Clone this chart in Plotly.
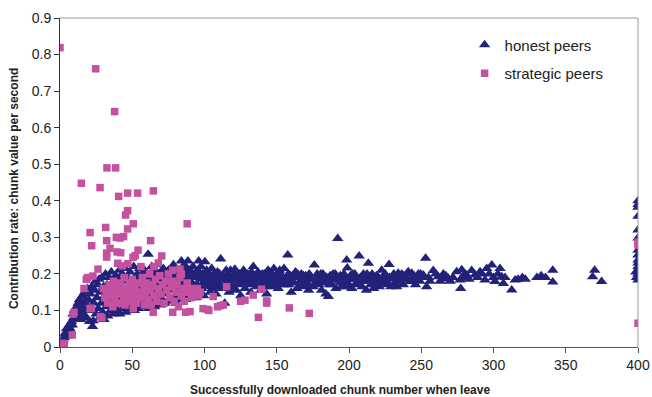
import plotly.graph_objects as go

# (chunk number when leaving, contribution rate)
honest_peers = [
    (0,0),(0.5,0.005),(1,0.01),(2,0.02),(3,0.025),(3.5,0.035),(4,0.04),(4.5,0.05),(5,0.03),(5.5,0.045),
    (6,0.055),(6.5,0.06),(7,0.05),(7.5,0.065),(8,0.07),(8.5,0.06),(9,0.09),(9.5,0.08),(10,0.1),(10.5,0.075),
    (11,0.085),(11.5,0.11),(12,0.095),(12.5,0.12),(13,0.1),(13.5,0.13),(14,0.085),(14.5,0.075),(15,0.11),(15.5,0.14),
    (16,0.09),(16.5,0.12),(17,0.15),(17.5,0.1),(18,0.13),(18.5,0.08),(19,0.16),(19.5,0.11),(20,0.128),(20.5,0.07),
    (21,0.145),(21.5,0.1),(22,0.165),(22.5,0.056),(23,0.072),(23.5,0.12),(24,0.155),(24.5,0.18),(25,0.09),(25.5,0.135),
    (26,0.17),(26.5,0.105),(27,0.185),(27.5,0.08),(28,0.15),(28.5,0.12),(29,0.19),(29.5,0.095),(30,0.165),(30.5,0.075),
    (31,0.14),(31.5,0.2),(32,0.11),(32.5,0.17),(33,0.085),(33.5,0.155),(34,0.19),(34.5,0.125),(35,0.1),(35.5,0.205),
    (36,0.145),(36.5,0.175),(37,0.09),(37.5,0.16),(38,0.115),(38.5,0.195),(39,0.135),(39.5,0.1),(40,0.185),(40.5,0.15),
    (41,0.21),(41.5,0.09),(42,0.17),(42.5,0.125),(43,0.2),(43.5,0.105),(44,0.16),(44.5,0.14),(45,0.215),(45.5,0.095),
    (46,0.18),(46.5,0.13),(47,0.19),(47.5,0.11),(48,0.155),(48.5,0.205),(49,0.1),(49.5,0.17),(50,0.135),
    (51,0.22),(51.5,0.1),(52,0.185),(52.5,0.145),(53,0.12),(53.5,0.2),(54,0.165),(54.5,0.105),(55,0.215),(55.5,0.13),
    (56,0.18),(56.5,0.115),(57,0.195),(57.5,0.15),(58,0.11),(58.5,0.21),(59,0.17),(59.5,0.125),(60,0.19),(60.5,0.14),
    (61,0.254),(61.5,0.105),(62,0.2),(62.5,0.16),(63,0.12),(63.5,0.22),(64,0.175),(64.5,0.135),(65,0.195),(65.5,0.11),
    (66,0.21),(66.5,0.15),(67,0.125),(67.5,0.185),(68,0.225),(68.5,0.14),(69,0.17),(69.5,0.115),(70,0.2),(70.5,0.155),
    (71,0.13),(71.5,0.215),(72,0.18),(72.5,0.12),(73,0.195),(74,0.145),(74.5,0.165),(75,0.21),
    (51.2,0.16),(53.2,0.175),(55.2,0.19),(57.2,0.17),(59.2,0.2),(61.2,0.18),(63.2,0.19),(65.2,0.17),(67.2,0.2),(69.2,0.185),
    (71.2,0.19),(73.2,0.205),(75.2,0.18),(77.2,0.19),(79.2,0.205),(81.2,0.19),(83.2,0.17),(85.2,0.21),(87.2,0.195),(89.2,0.21),
    (91.2,0.19),(93.2,0.2),(95.2,0.19),(97.2,0.2),
    (76,0.125),(76.5,0.185),(77,0.155),(77.5,0.2),(78,0.135),(78.5,0.225),(79,0.17),(79.5,0.14),(80,0.195),(80.5,0.12),
    (81,0.21),(81.5,0.16),(82,0.18),(82.5,0.13),(83,0.2),(83.5,0.15),(84,0.235),(84.5,0.175),(85,0.14),(85.5,0.19),
    (86,0.225),(86.5,0.16),(87,0.13),(87.5,0.21),(88,0.18),(88.5,0.235),(89,0.15),(89.5,0.195),(90,0.165),(90.5,0.14),
    (91,0.205),(91.5,0.175),(92,0.22),(92.5,0.155),(93,0.19),(94,0.135),(94.5,0.2),(95,0.17),(95.5,0.21),(96,0.235),
    (96.5,0.15),(97,0.185),(97.5,0.22),(98,0.16),(98.5,0.2),(99,0.175),(99.5,0.14),(100,0.19),
    (100.3,0.233),(101,0.165),(102,0.2),(103,0.18),(104,0.15),(105,0.215),(106,0.17),(107,0.19),(108,0.145),(109,0.205),
    (110,0.175),(111.2,0.241),(112,0.16),(113,0.195),(114,0.12),(115,0.21),(116,0.18),(117,0.15),(118,0.21),(119,0.17),
    (120,0.195),(121,0.213),(122,0.155),(123,0.185),(124,0.2),(125,0.14),(126,0.175),(127,0.21),(128,0.16),(129,0.19),
    (130,0.2),(131,0.17),(132,0.15),(133,0.185),(133.8,0.22),(135,0.195),(136,0.165),(137,0.205),(138,0.18),(139,0.155),
    (140,0.2),(141,0.175),(142,0.19),(143,0.145),(144,0.21),(145,0.185),(146,0.165),(147,0.2),(148,0.215),(149,0.18),
    (100.5,0.18),(101.5,0.21),(102.5,0.175),(103.5,0.195),(104.5,0.185),(105.5,0.16),(106.5,0.2),(107.5,0.175),(108.5,0.19),(109.5,0.165),
    (110.5,0.2),(112.5,0.185),(113.5,0.17),(115.5,0.19),(116.5,0.2),(117.5,0.175),(118.5,0.185),(119.5,0.16),(120.5,0.18),(122.5,0.2),
    (123.5,0.17),(124.5,0.19),(126.5,0.2),(127.5,0.185),(128.5,0.175),(130.5,0.185),(131.5,0.195),(132.5,0.205),(134,0.175),(135.5,0.18),
    (136.5,0.19),(138.5,0.195),(139.5,0.17),(141.5,0.2),(142.5,0.165),(144.5,0.175),(145.5,0.2),(146.5,0.19),(148.5,0.17),
    (150,0.195),(151,0.16),(152,0.21),(153,0.175),(154,0.19),(155,0.215),(156,0.17),(157.6,0.252),(158,0.2),(159,0.18),
    (160,0.15),(161,0.195),(162,0.175),(163,0.205),(164,0.16),(165,0.19),(166,0.18),(167,0.2),(168,0.165),(169,0.185),
    (170,0.195),(171,0.17),(172,0.155),(173,0.19),(175.3,0.165),(176,0.224),(177,0.185),(178,0.2),(179,0.17),(180,0.19),
    (181,0.155),(182,0.2),(183,0.175),(184,0.145),(185.7,0.138),(186,0.185),(187,0.195),(188,0.17),(189,0.2),(190,0.185),
    (191,0.16),(192.2,0.297),(193,0.18),(194,0.195),(195,0.165),(196,0.19),(197,0.175),(198.4,0.238),(198.8,0.216),(199,0.185),
    (150.5,0.185),(151.5,0.2),(153.5,0.195),(154.5,0.17),(156.5,0.185),(158.5,0.17),(159.5,0.195),(160.5,0.18),(162.5,0.19),(164.5,0.2),
    (166.5,0.17),(168.5,0.195),(170.5,0.18),(172.5,0.2),(174,0.185),(176.5,0.175),(178.5,0.185),(180.5,0.2),(182.5,0.18),(184.5,0.19),
    (186.5,0.17),(188.5,0.185),(190.5,0.2),(192.5,0.19),(194.5,0.175),(196.5,0.2),(198,0.165),
    (200,0.17),(201,0.195),(202,0.16),(203,0.185),(204,0.2),(205,0.175),(207,0.249),(208,0.19),(209,0.165),(210,0.2),
    (211,0.18),(212,0.155),(213.4,0.229),(214,0.19),(215,0.17),(216,0.2),(217,0.16),(218,0.185),(219,0.195),(220,0.175),
    (221,0.165),(222.6,0.21),(223,0.19),(224,0.175),(225,0.2),(226,0.18),(227.7,0.226),(228,0.19),(229,0.165),(230,0.185),
    (231,0.2),(232,0.175),(233,0.165),(234,0.202),(235,0.18),(236,0.19),(237.6,0.17),(238,0.195),(239,0.185),(240,0.2),
    (241,0.206),(242.2,0.179),(243.4,0.202),(244.5,0.188),(245,0.195),(246,0.17),(247,0.19),(248,0.2),(249,0.18),(250,0.19),
    (200.5,0.185),(202.5,0.2),(204.5,0.19),(206,0.17),(208.5,0.18),(210.5,0.19),(212.5,0.2),(214.5,0.18),(216.5,0.185),(218.5,0.17),
    (220.5,0.19),(222,0.18),(224.5,0.195),(226.5,0.17),(230.5,0.195),(232.5,0.19),(236.5,0.2),(240.5,0.185),(246.5,0.185),(249.5,0.2),
    (251.4,0.197),(253,0.243),(253.7,0.165),(255,0.19),(256,0.18),(258.3,0.209),(260,0.2),(261.8,0.192),(263,0.18),(265.3,0.2),
    (265.5,0.186),(267,0.195),(268.7,0.188),(270,0.18),(272,0.19),(274.5,0.206),(276.8,0.183),(277.3,0.16),(278,0.211),(279,0.19),
    (280,0.2),(281.4,0.197),(283,0.185),(284.9,0.209),(287.2,0.197),(289,0.19),(290.7,0.206),(292,0.2),(294.1,0.183),(295.3,0.215),
    (297,0.2),(298.8,0.224),(300,0.19),(301,0.179),(303,0.2),(304.5,0.215),(305.7,0.192),(306.8,0.174),(308,0.19),(312.6,0.156),
    (315,0.183),(317,0.185),(320,0.19),(322,0.185),(330,0.19),(333,0.195),(336,0.19),(341,0.21),(341,0.178),(368.6,0.192),
    (370,0.21),(374.8,0.179),
    (400,0.4),(400,0.39),(400,0.382),(400,0.358),(400,0.32),(400,0.298),(400,0.265),(400,0.252),(400,0.238),(400,0.23),
    (400,0.22),(400,0.21),(398.5,0.205),(400,0.2),(400,0.192),(400,0.183),(399,0.19),
]

strategic_peers = [
    (0,0.819),(24.7,0.761),(37.8,0.644),(32.5,0.49),(38.5,0.49),(14.8,0.448),(27.7,0.436),(40.6,0.412),(46.8,0.421),(53.7,0.421),
    (64.6,0.427),(46.8,0.373),(45.4,0.361),(50.7,0.337),(31.6,0.327),(46.8,0.323),(88,0.337),(20.8,0.313),(21.9,0.277),(32.3,0.291),
    (32.3,0.257),(32.3,0.246),(34.6,0.27),(39,0.3),(41.5,0.298),(44,0.302),(39.5,0.26),(42,0.258),(62.7,0.291),(50.5,0.245),
    (52,0.25),(54,0.265),(40,0.229),(43,0.222),(47,0.228),(26.3,0.213),(22.8,0.194),(19,0.19),(18.2,0.185),(16.6,0.16),
    (70.4,0.249),(78,0.21),(84,0.2),(68,0.23),(65,0.22),(56,0.22),(83,0.213),
    (0,0),(1,0.005),(2,0.01),(3,0.008),(8.5,0.033),(9,0.09),(9.7,0.095),(21.7,0.106),(20.8,0.105),(28,0.083),
    (29,0.08),(50.7,0.105),(64.5,0.095),(78,0.095),(87,0.095),(90,0.097),
    (30,0.16),(31,0.135),(32,0.15),(33,0.12),(34,0.17),(35,0.14),(36,0.155),(36.5,0.11),(37,0.18),(38,0.13),
    (39,0.165),(40,0.145),(41,0.12),(42,0.175),(43,0.155),(44,0.135),(44.5,0.19),(45,0.115),(46,0.16),(47,0.14),
    (48,0.175),(48.5,0.125),(49,0.155),(50,0.185),(51,0.14),(52,0.165),(53,0.12),(54,0.15),(55,0.175),(56,0.135),
    (57,0.19),(58,0.16),(58.5,0.115),(59,0.145),(60,0.175),(61,0.13),(62,0.2),(62.5,0.155),(63,0.115),(64,0.17),
    (65,0.14),(66,0.185),(67,0.125),(68,0.16),(69,0.195),(70,0.145),(71,0.17),(72,0.12),(73,0.18),(74,0.155),
    (75,0.2),(76,0.135),(77,0.165),(78,0.18),(79,0.125),(80,0.15),(81,0.17),(82,0.11),(83,0.19),(84,0.14),
    (85,0.16),(86,0.125),(88,0.175),(89,0.15),(90,0.16),(91,0.135),(92,0.155),(94,0.145),(95,0.16),(96,0.14),
    (97,0.15),(99,0.105),(103,0.1),(106,0.138),(102,0.103),(109,0.11),(111,0.113),(113,0.115),(115.3,0.165),(125,0.125),
    (128,0.128),(133.7,0.142),(139.5,0.158),(137.3,0.081),(143,0.12),(143,0.126),(158.7,0.107),(172.5,0.092),
    (400,0.287),(400,0.279),(400,0.065),
]

x_ticks = [0, 50, 100, 150, 200, 250, 300, 350, 400]
y_ticks = [0, 0.1, 0.2, 0.3, 0.4, 0.5, 0.6, 0.7, 0.8, 0.9]
y_tick_labels = ["0", "0.1", "0.2", "0.3", "0.4", "0.5", "0.6", "0.7", "0.8", "0.9"]

FONT = "Liberation Sans, Arial, sans-serif"
NAVY = "#22227a"
MAGENTA = "#c4519f"

fig = go.Figure()
fig.add_trace(go.Scatter(
    x=[p[0] for p in honest_peers], y=[p[1] for p in honest_peers],
    mode="markers", name="honest peers", legendgroup="honest",
    marker=dict(symbol="triangle-up", size=10, color=NAVY, line=dict(width=0)),
))
fig.add_trace(go.Scatter(
    x=[p[0] for p in strategic_peers], y=[p[1] for p in strategic_peers],
    mode="markers", name="strategic peers", legendgroup="strategic",
    marker=dict(symbol="square", size=7.5, color=MAGENTA, line=dict(width=0)),
))

fig.update_layout(
    width=652, height=397,
    margin=dict(l=60, r=14, t=18, b=50, autoexpand=False),
    paper_bgcolor="white", plot_bgcolor="white",
    font=dict(family=FONT, size=13, color="#222"),
    showlegend=True,
    legend=dict(x=0.7, y=0.968, xanchor="left", yanchor="top",
                font=dict(family=FONT, size=15, color="#222"),
                bgcolor="rgba(0,0,0,0)", itemwidth=30, tracegroupgap=6),
    xaxis=dict(range=[0, 400], tickvals=x_ticks, showgrid=False, zeroline=False, automargin=False,
               showline=True, linecolor="#555", linewidth=1,
               ticks="outside", ticklen=5, tickcolor="#555",
               tickfont=dict(family=FONT, size=14, color="#222")),
    yaxis=dict(range=[0, 0.9], tickvals=y_ticks, ticktext=y_tick_labels, showgrid=False, zeroline=False,
               automargin=False, showline=True, linecolor="#333", linewidth=1,
               ticks="outside", ticklen=5, tickcolor="#333",
               tickfont=dict(family=FONT, size=14, color="#222")),
    shapes=[
        dict(type="line", xref="paper", yref="paper", x0=0, x1=1, y0=1, y1=1,
             line=dict(color="#999", width=1)),
        dict(type="line", xref="paper", yref="paper", x0=1, x1=1, y0=0, y1=1,
             line=dict(color="#999", width=1)),
    ],
    annotations=[
        dict(text="<b>Successfully downloaded chunk number when leave</b>", xref="paper", yref="paper",
             x=0.485, y=0, yshift=-43, xanchor="center", yanchor="middle", showarrow=False,
             font=dict(family=FONT, size=12, color="#222")),
        dict(text="<b>Contribution rate: chunk value per second</b>", xref="paper", yref="paper",
             x=0, xshift=-46, y=0.48, xanchor="center", yanchor="middle", textangle=-90, showarrow=False,
             font=dict(family=FONT, size=12, color="#222")),
    ],
)

fig.write_html("out.html", config={"displayModeBar": False},
               post_script="document.body.style.margin='0';document.body.style.padding='0';")
